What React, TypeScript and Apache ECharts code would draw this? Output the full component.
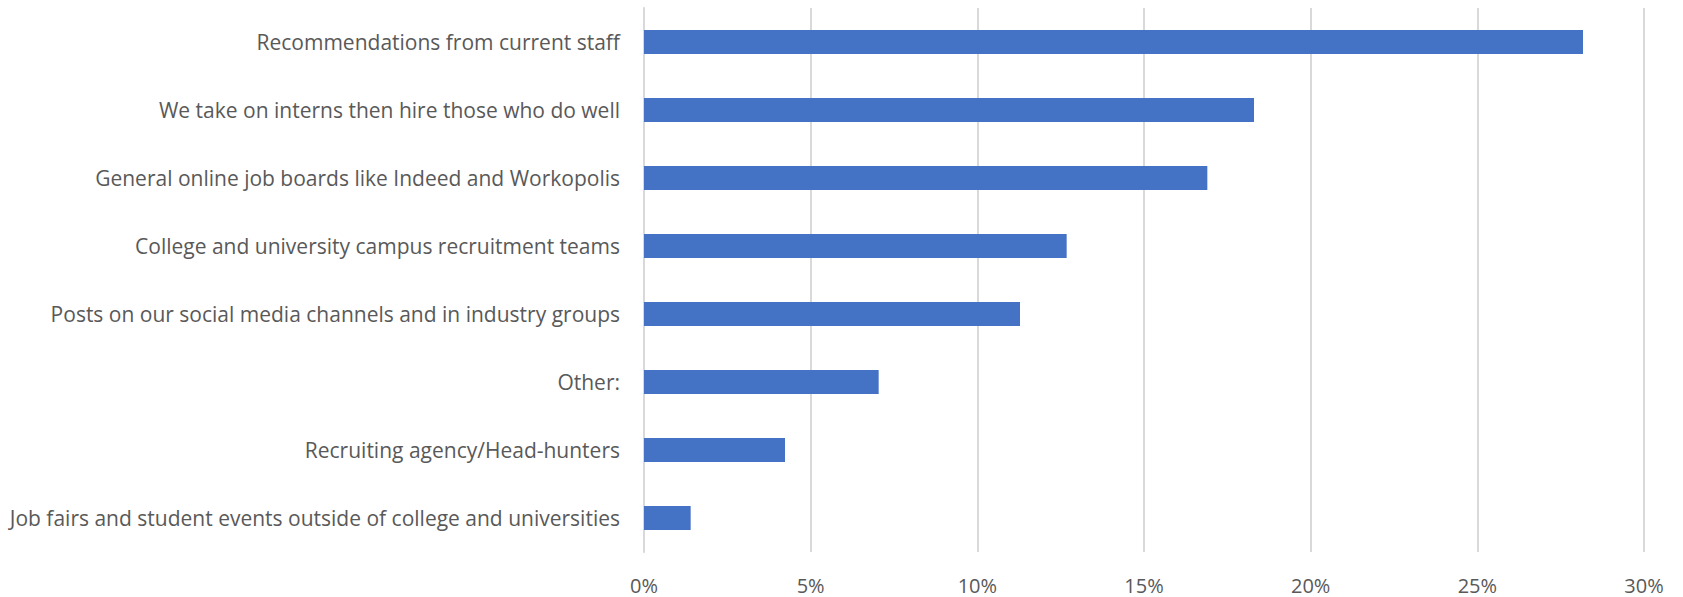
import React, { useEffect, useRef } from "react";
import * as echarts from "echarts";

const categories = [
  "Recommendations from current staff",
  "We take on interns then hire those who do well",
  "General online job boards like Indeed and Workopolis",
  "College and university campus recruitment teams",
  "Posts on our social media channels and in industry groups",
  "Other:",
  "Recruiting agency/Head-hunters",
  "Job fairs and student events outside of college and universities",
];
const values = [28.17, 18.3, 16.9, 12.68, 11.28, 7.04, 4.23, 1.4];
const tickLabels = ["0%", "5%", "10%", "15%", "20%", "25%", "30%"];

const FONT = "'Open Sans', Lato, sans-serif";

export default function App() {
  const ref = useRef<HTMLDivElement>(null);
  useEffect(() => {
    if (!ref.current) return;
    const chart = echarts.init(ref.current, undefined, { renderer: "svg" });
    chart.setOption({
      animation: false,
      grid: { left: 644, right: 39, top: 8, bottom: 45, containLabel: false },
      xAxis: {
        type: "value",
        min: 0,
        max: 30,
        interval: 5,
        axisLine: { show: false },
        axisTick: { show: false },
        splitLine: { show: true, lineStyle: { color: "#d9d9d9", width: 2 } },
        axisLabel: {
          color: "#595959",
          fontSize: 20,
          fontFamily: FONT,
          margin: 23,
          formatter: (v: number) => tickLabels[Math.round(v / 5)] ?? "",
        },
      },
      yAxis: {
        type: "category",
        inverse: true,
        data: categories,
        axisLine: { show: true, lineStyle: { color: "#d9d9d9", width: 2 } },
        axisTick: { show: false },
        axisLabel: {
          color: "#595959",
          fontSize: 21,
          fontFamily: FONT,
          margin: 24,
        },
      },
      series: [
        {
          type: "bar",
          data: values,
          barWidth: 24,
          itemStyle: { color: "#4472C4" },
        },
      ],
    });
    return () => chart.dispose();
  }, []);
  return (
    <div
      ref={ref}
      style={{ position: "fixed", left: 0, top: 0, width: 1683, height: 597, background: "#fff" }}
    />
  );
}
